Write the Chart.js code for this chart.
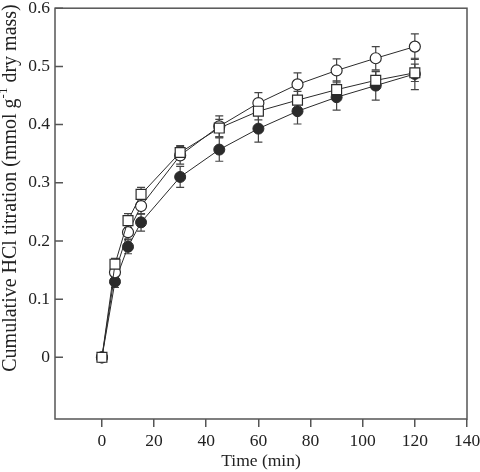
<!DOCTYPE html>
<html>
<head>
<meta charset="utf-8">
<script src="https://cdn.jsdelivr.net/npm/chart.js@4"></script>
<style>
  html, body { margin: 0; padding: 0; background: #fff; }
  #wrap { width: 480px; height: 472px; }
</style>
</head>
<body>
<div id="wrap"><canvas id="titration"></canvas></div>
<script>
// time points (min)
const times = [0, 5, 10, 15, 30, 45, 60, 75, 90, 105, 120];

// open squares
const sqVals = [0, 0.160, 0.235, 0.280, 0.352, 0.394, 0.423, 0.442, 0.460, 0.476, 0.489];
const sqErr  = [0, 0.010, 0.012, 0.012, 0.012, 0.015, 0.015, 0.015, 0.015, 0.015, 0.015];
// open circles
const ocVals = [0, 0.146, 0.215, 0.260, 0.347, 0.397, 0.437, 0.469, 0.493, 0.514, 0.534];
const ocErr  = [0, 0.010, 0.012, 0.014, 0.015, 0.018, 0.018, 0.020, 0.020, 0.020, 0.022];
// filled circles
const fcVals = [0, 0.130, 0.190, 0.232, 0.310, 0.357, 0.393, 0.423, 0.447, 0.467, 0.487];
const fcErr  = [0, 0.010, 0.012, 0.015, 0.018, 0.020, 0.023, 0.022, 0.022, 0.025, 0.027];

const yTicks = [0, 0.1, 0.2, 0.3, 0.4, 0.5, 0.6];
const xTicks = [0, 20, 40, 60, 80, 100, 120, 140];

const ink = '#2b2b2b';
const serif = "'Liberation Serif', 'DejaVu Serif', serif";

function pts(vals) {
  return times.map((t, i) => ({ x: t, y: vals[i] }));
}

// error bars drawn from the scales, under the markers
const errorBars = {
  id: 'errorBars',
  beforeDatasetsDraw(chart) {
    const ctx = chart.ctx;
    const xs = chart.scales.x, ys = chart.scales.y;
    ctx.save();
    ctx.strokeStyle = '#444';
    ctx.lineWidth = 1.2;
    chart.data.datasets.forEach(ds => {
      ds.data.forEach((p, i) => {
        const e = ds.err[i];
        if (!e) return;
        const px = xs.getPixelForValue(p.x);
        const top = ys.getPixelForValue(p.y + e);
        const bot = ys.getPixelForValue(p.y - e);
        ctx.beginPath();
        ctx.moveTo(px, top); ctx.lineTo(px, bot);
        ctx.moveTo(px - 4, top); ctx.lineTo(px + 4, top);
        ctx.moveTo(px - 4, bot); ctx.lineTo(px + 4, bot);
        ctx.stroke();
      });
    });
    ctx.restore();
  }
};

// frame, inward y ticks and the y title with a real superscript
const frame = {
  id: 'frame',
  afterDraw(chart) {
    const ctx = chart.ctx;
    const a = chart.chartArea;
    const ys = chart.scales.y;
    ctx.save();
    ctx.strokeStyle = '#555';
    ctx.lineWidth = 1.5;
    ctx.strokeRect(a.left, a.top, a.right - a.left, a.bottom - a.top);
    ctx.beginPath();
    yTicks.forEach(v => {
      const py = ys.getPixelForValue(v);
      ctx.moveTo(a.left, py);
      ctx.lineTo(a.left + 8, py);
    });
    ctx.stroke();

    // y title
    const parts = [
      { t: 'Cumulative HCl titration (mmol g', size: 20, dy: 0 },
      { t: '-1', size: 13, dy: -7 },
      { t: ' dry mass)', size: 20, dy: 0 }
    ];
    let total = 0;
    parts.forEach(p => { ctx.font = p.size + 'px ' + serif; p.w = ctx.measureText(p.t).width; total += p.w; });
    ctx.translate(11, 188);
    ctx.rotate(-Math.PI / 2);
    ctx.fillStyle = '#222';
    ctx.textBaseline = 'middle';
    ctx.textAlign = 'left';
    let cx = -total / 2;
    parts.forEach(p => {
      ctx.font = p.size + 'px ' + serif;
      ctx.fillText(p.t, cx, p.dy);
      cx += p.w;
    });
    ctx.restore();
  }
};

new Chart(document.getElementById('titration'), {
  type: 'line',
  data: {
    datasets: [
      {
        data: pts(sqVals), err: sqErr,
        borderColor: ink, borderWidth: 1,
        pointStyle: 'rect', pointRadius: 7,
        pointBackgroundColor: '#fff', pointBorderColor: ink, pointBorderWidth: 1.2
      },
      {
        data: pts(ocVals), err: ocErr,
        borderColor: ink, borderWidth: 1,
        pointStyle: 'circle', pointRadius: 5.5,
        pointBackgroundColor: '#fff', pointBorderColor: ink, pointBorderWidth: 1.2
      },
      {
        data: pts(fcVals), err: fcErr,
        borderColor: ink, borderWidth: 1,
        pointStyle: 'circle', pointRadius: 5.5,
        pointBackgroundColor: ink, pointBorderColor: ink, pointBorderWidth: 1
      }
    ]
  },
  options: {
    responsive: true,
    maintainAspectRatio: false,
    animation: false,
    layout: { padding: { top: 6, right: 13, bottom: 0, left: 0 } },
    plugins: { legend: { display: false }, tooltip: { enabled: false } },
    scales: {
      x: {
        type: 'linear',
        min: -18, max: 140,
        afterBuildTicks(s) { s.ticks = xTicks.map(v => ({ value: v })); },
        afterFit(s) { s.height = 53; s.paddingRight = 0; s.paddingLeft = 0; },
        grid: { drawOnChartArea: false, drawTicks: true, tickLength: 8, color: '#555', lineWidth: 1.5 },
        border: { display: false },
        ticks: { color: '#222', font: { family: serif, size: 17.5 }, padding: 4, maxRotation: 0,
                 callback: v => String(v) },
        title: { display: true, text: 'Time (min)', color: '#222',
                 font: { family: serif, size: 17.5 }, padding: { top: 0, bottom: 0 } }
      },
      y: {
        type: 'linear',
        min: -0.106, max: 0.6,
        afterBuildTicks(s) { s.ticks = yTicks.map(v => ({ value: v })); },
        afterFit(s) { s.width = 55; s.paddingTop = 0; s.paddingBottom = 0; },
        grid: { drawOnChartArea: false, drawTicks: false },
        border: { display: false },
        ticks: { color: '#222', font: { family: serif, size: 17.5 }, padding: 5,
                 callback: v => v === 0 ? '0' : v.toFixed(1) },
        title: { display: false }
      }
    }
  },
  plugins: [errorBars, frame]
});
</script>
</body>
</html>
